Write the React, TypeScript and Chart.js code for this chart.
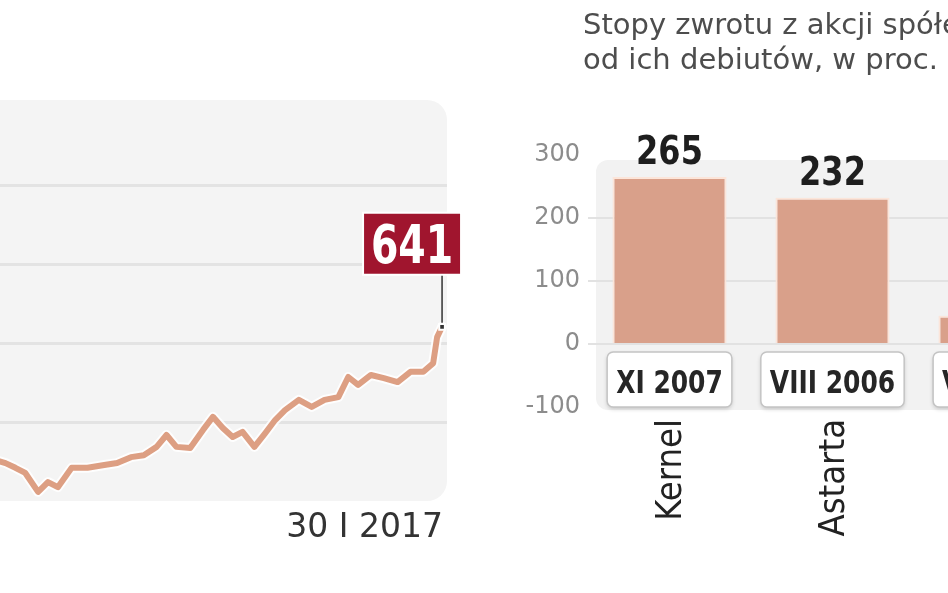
import { useEffect, useRef } from "react";
import { Chart, registerables } from "chart.js";

Chart.register(...registerables);

// lewy wykres: indeks
const sesje = [-12, 0, 10, 20, 33, 43, 53, 67, 83, 100, 113, 127, 140, 153, 163, 173, 187, 200, 210, 220, 230, 240, 252, 263, 273, 283, 297, 310, 323, 337, 347, 357, 370, 383, 397, 410, 423, 433, 437, 442];
const indeks = [305, 296, 284, 271, 223, 248, 235, 284, 284, 291, 296, 311, 316, 337, 367, 337, 334, 380, 413, 385, 362, 375, 337, 372, 405, 430, 456, 438, 456, 463, 514, 494, 519, 511, 501, 527, 527, 549, 615, 641];
const dataKoncowa = "30 I 2017";

// prawy wykres: stopy zwrotu od debiutu
const spolki = ["Kernel", "Astarta", "Ovostar"];
const debiuty = ["XI 2007", "VIII 2006", "VI 2011"];
const stopyZwrotu = [265, 232, 45];
const tytul = ["Stopy zwrotu z akcji spółek", "od ich debiutów, w proc."];

const FONT = "DejaVu Sans";

function tekst(
  ctx: CanvasRenderingContext2D,
  txt: string,
  x: number,
  y: number,
  font: string,
  color: string,
  align: CanvasTextAlign,
  sx = 1,
  rot = 0
) {
  ctx.save();
  ctx.translate(x, y);
  if (rot) ctx.rotate(rot);
  ctx.scale(sx, 1);
  ctx.font = font;
  ctx.fillStyle = color;
  ctx.textAlign = align;
  ctx.textBaseline = "alphabetic";
  ctx.fillText(txt, 0, 0);
  ctx.restore();
}

function App() {
  const lewyRef = useRef<HTMLCanvasElement | null>(null);
  const prawyRef = useRef<HTMLCanvasElement | null>(null);

  useEffect(() => {
    if (!lewyRef.current || !prawyRef.current) return;
    const ostatni = indeks.length - 1;
    const punkty = () => sesje.map((s, i) => ({ x: s, y: indeks[i] }));

    const lewy = new Chart(lewyRef.current, {
      type: "line",
      data: {
        datasets: [
          {
            // linia indeksu (pierwszy zestaw rysuje się na wierzchu)
            data: punkty(),
            borderColor: "#dd9f83",
            borderWidth: 6,
            borderJoinStyle: "round",
            borderCapStyle: "round",
            pointRadius: (c: any) => (c.dataIndex === ostatni ? 4 : 0),
            pointStyle: "rect",
            pointBackgroundColor: "#333",
            pointBorderColor: "#fff",
            pointBorderWidth: 2,
          },
          {
            // jasna obwódka pod linią
            data: punkty(),
            borderColor: "rgba(255,255,255,0.85)",
            borderWidth: 10,
            pointRadius: 0,
            borderJoinStyle: "round",
            borderCapStyle: "round",
          },
        ],
      },
      options: {
        animation: false,
        responsive: false,
        layout: { padding: { top: 185, bottom: 92, left: 0, right: 33 } },
        plugins: { legend: { display: false }, tooltip: { enabled: false } },
        scales: {
          x: { type: "linear", min: -40, max: 447, display: false },
          y: {
            min: 200,
            max: 1000,
            ticks: { stepSize: 200, display: false },
            grid: {
              color: (c: any) => (c.tick.value === 200 ? "transparent" : "#e3e3e3"),
              lineWidth: 3,
              drawTicks: false,
            },
            border: { display: false },
            afterFit: (s: any) => {
              s.width = 0;
            },
          },
        },
      },
      plugins: [
        {
          id: "panelLewy",
          beforeDraw: (chart: any) => {
            const { ctx, chartArea } = chart;
            ctx.save();
            ctx.fillStyle = "#f4f4f4";
            ctx.beginPath();
            ctx.roundRect(chartArea.left - 20, chartArea.top - 85, chartArea.right - chartArea.left + 20, chartArea.bottom - chartArea.top + 85, 20);
            ctx.fill();
            ctx.restore();
          },
          afterDatasetsDraw: (chart: any) => {
            const { ctx, chartArea } = chart;
            const p = chart.getDatasetMeta(0).data[ostatni];
            const bx = p.x - 30;
            const dol = p.y - 52;
            ctx.save();
            ctx.strokeStyle = "#333";
            ctx.lineWidth = 1.5;
            ctx.beginPath();
            ctx.moveTo(p.x, p.y - 4);
            ctx.lineTo(p.x, dol);
            ctx.stroke();
            ctx.fillStyle = "#a0152e";
            ctx.strokeStyle = "#fff";
            ctx.lineWidth = 2;
            ctx.beginPath();
            ctx.rect(bx - 49, dol - 62, 98, 62);
            ctx.fill();
            ctx.stroke();
            ctx.restore();
            tekst(ctx, String(indeks[ostatni]), bx, dol - 12, `bold 54px ${FONT}`, "#fff", "center", 0.73);
            tekst(ctx, dataKoncowa, chartArea.right - 4, chartArea.bottom + 36, `33px ${FONT}`, "#333", "right");
          },
        },
      ],
    } as any);

    const prawy = new Chart(prawyRef.current, {
      type: "bar",
      data: {
        labels: spolki,
        datasets: [
          {
            data: stopyZwrotu,
            backgroundColor: "#d9a08a",
            borderColor: "rgba(252,228,215,0.95)",
            borderWidth: 2,
            barPercentage: 0.7,
            categoryPercentage: 1,
          },
        ],
      },
      options: {
        animation: false,
        responsive: false,
        layout: { padding: { top: 155, bottom: 186, left: 0, right: 23 } },
        plugins: { legend: { display: false }, tooltip: { enabled: false } },
        scales: {
          x: { display: false },
          y: {
            min: -100,
            max: 300,
            ticks: { stepSize: 100, color: "#8c8c8c", font: { size: 24, family: FONT }, padding: 8 },
            grid: {
              color: (c: any) => (c.tick.value === 300 || c.tick.value === -100 ? "transparent" : "#e2e2e2"),
              lineWidth: 2,
              drawTicks: false,
            },
            border: { display: false },
            afterFit: (s: any) => {
              s.width = 88;
            },
          },
        },
      },
      plugins: [
        {
          id: "panelPrawy",
          beforeDraw: (chart: any) => {
            const { ctx, chartArea } = chart;
            ctx.save();
            ctx.fillStyle = "#f2f2f2";
            ctx.beginPath();
            ctx.roundRect(chartArea.left + 8, chartArea.top + 5, chartArea.right - chartArea.left, chartArea.bottom - chartArea.top - 2, 12);
            ctx.fill();
            ctx.restore();
          },
          afterDatasetsDraw: (chart: any) => {
            const { ctx } = chart;
            const zero = chart.scales.y.getPixelForValue(0);
            chart.getDatasetMeta(0).data.forEach((bar: any, i: number) => {
              tekst(ctx, String(stopyZwrotu[i]), bar.x, bar.y - 13, `bold 39px ${FONT}`, "#1e1e1e", "center", 0.82);
              // ramka z datą debiutu
              ctx.save();
              ctx.font = `bold 32px ${FONT}`;
              const w = ctx.measureText(debiuty[i]).width * 0.78;
              ctx.fillStyle = "#fff";
              ctx.strokeStyle = "#c4c4c4";
              ctx.lineWidth = 1.5;
              ctx.shadowColor = "rgba(0,0,0,0.2)";
              ctx.shadowBlur = 4;
              ctx.shadowOffsetY = 2;
              ctx.beginPath();
              ctx.roundRect(bar.x - w / 2 - 9, zero + 8, w + 18, 55, 6);
              ctx.fill();
              ctx.shadowColor = "transparent";
              ctx.stroke();
              ctx.restore();
              tekst(ctx, debiuty[i], bar.x, zero + 49, `bold 32px ${FONT}`, "#262626", "center", 0.78);
              tekst(ctx, spolki[i], bar.x + 11, zero + 75, `36px ${FONT}`, "#222", "right", 0.9, -Math.PI / 2);
            });
          },
        },
      ],
    } as any);

    return () => {
      lewy.destroy();
      prawy.destroy();
    };
  }, []);

  return (
    <div style={{ position: "fixed", left: 0, top: 0, width: 948, height: 593, overflow: "hidden", background: "#fff" }}>
      <canvas ref={lewyRef} width={520} height={593} style={{ position: "absolute", left: -40, top: 0 }} />
      <canvas ref={prawyRef} width={600} height={593} style={{ position: "absolute", left: 500, top: 0 }} />
      <div
        style={{
          position: "absolute",
          left: 583,
          top: 7,
          fontFamily: FONT,
          fontSize: 29,
          lineHeight: "35px",
          color: "#4d4d4d",
          whiteSpace: "nowrap",
        }}
      >
        {tytul.map((t) => (
          <div key={t}>{t}</div>
        ))}
      </div>
    </div>
  );
}

export default App;
